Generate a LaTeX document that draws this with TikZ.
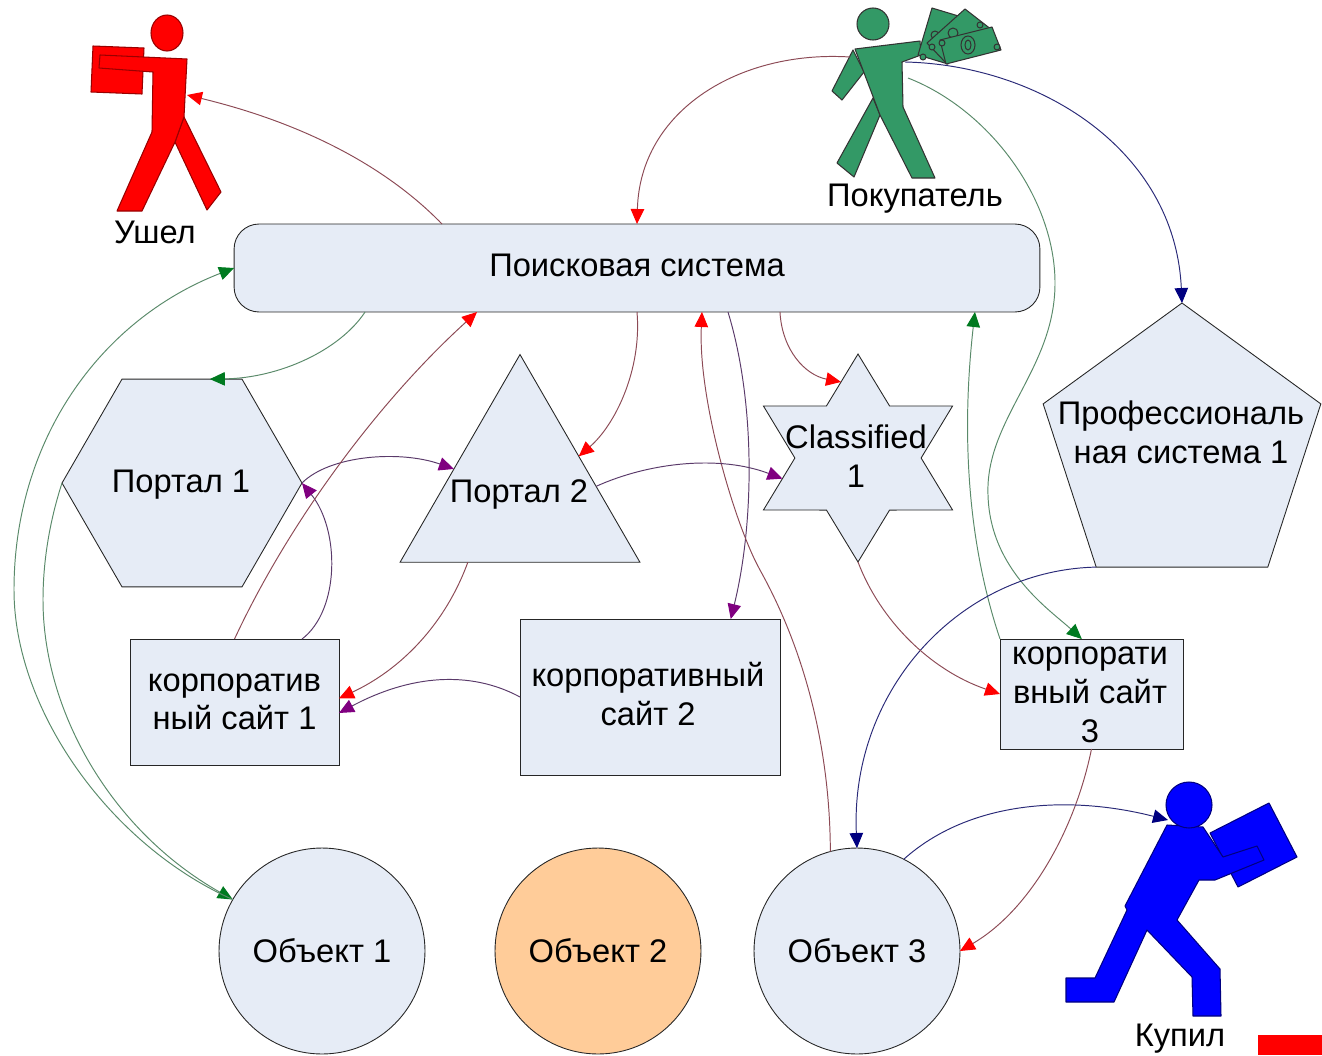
\documentclass[tikz,border=0pt]{standalone}
\usepackage{fontspec}
\setmainfont{Liberation Sans}
\usetikzlibrary{arrows.meta,shapes.geometric}

\begin{document}
\begin{tikzpicture}[x=0.02cm,y=-0.02cm]
    \definecolor{shapefill}{HTML}{E6ECF6}
    \definecolor{orangefill}{HTML}{FFCC99}
    \definecolor{buyergreen}{HTML}{339966}
    \definecolor{linered}{HTML}{8C4A55}
    \definecolor{linegreen}{HTML}{5A8A6A}
    \definecolor{linenavy}{HTML}{2A2A78}
    \definecolor{linepurple}{HTML}{5A3A6A}
    \definecolor{tippurple}{HTML}{800080}
    \definecolor{tipgreen}{HTML}{007A20}
    \definecolor{tipnavy}{HTML}{000080}
    \tikzset{
      basenode/.style={draw=black!85,line width=0.5pt,fill=shapefill,inner sep=0pt,outer sep=0pt,align=center,font=\fontsize{18.6}{22}\selectfont},
      rectnode/.style={basenode,rectangle},
      circlenode/.style={basenode,circle,minimum size=4.12cm},
      textnode/.style={inner sep=0pt,outer sep=0pt,align=center,font=\fontsize{18.6}{22}\selectfont},
      redarrow/.style={draw=linered,line width=0.55pt,-{Triangle[red,length=3mm,width=2.7mm]}},
      greenarrow/.style={draw=linegreen,line width=0.55pt,-{Triangle[tipgreen,length=3mm,width=2.7mm]}},
      navyarrow/.style={draw=linenavy,line width=0.55pt,-{Triangle[tipnavy,length=3mm,width=2.7mm]}},
      purplearrow/.style={draw=linepurple,line width=0.55pt,-{Triangle[tippurple,length=3mm,width=2.7mm]}},
      manred/.style={fill=red,draw=red!60!black,line width=0.6pt,line join=round},
      mangreen/.style={fill=buyergreen,draw=black!80,line width=0.6pt,line join=round},
      manblue/.style={fill=blue,draw=blue!50!black,line width=0.6pt,line join=round}
    }
    \useasboundingbox (0,0) rectangle (1322,1055);

    \draw[manred] (93,46) -- (91,92) -- (142,94) -- (144,48) -- cycle;
    \draw[manred] (184,117) -- (221,192) -- (207,210) -- (175,142) -- cycle;
    \draw[manred] (100,55) -- (187,59) -- (184,117) -- (175,142) -- (142,211) -- (117,211) -- (152,132) -- (153,72) -- (99,68) -- cycle;
    \draw[manred] (167,33) ellipse (16 and 18);

    \draw[mangreen] (853,50) -- (864,72) -- (842,100) -- (832,91) -- cycle;
    \draw[mangreen] (873,98) -- (880,115) -- (854,177) -- (837,163) -- cycle;
    \draw[mangreen] (855,49) -- (920,41) -- (921,55) -- (902,62) -- (903,107) -- (935,178) -- (912,178) -- (880,115) -- cycle;
    \draw[mangreen] (932,8) -- (975,21) -- (948,64) -- (918,55) -- cycle;
    \draw[mangreen] (935,35) circle (4);
    \draw[mangreen] (923,57) circle (3);
    \draw[mangreen] (965,9) -- (992,30) -- (947,64) -- (927,43) -- cycle;
    \draw[mangreen] (953,33) circle (5);
    \draw[mangreen] (932,47) circle (3);
    \draw[mangreen] (980,25) circle (3);
    \draw[mangreen] (940,40) -- (992,27) -- (1001,50) -- (946,64) -- cycle;
    \draw[mangreen] (968,45) ellipse (7 and 9);
    \draw[mangreen] (968,45) ellipse (3 and 5);
    \draw[mangreen] (942,43) circle (3);
    \draw[mangreen] (997,47) circle (3);
    \draw[mangreen] (873,24) circle (16);

    \draw[manblue] (1210,833) -- (1269,803) -- (1297,857) -- (1238,887) -- cycle;
    \draw[manblue] (1167,825) -- (1203,827) -- (1223,857) -- (1257,846) -- (1264,860) -- (1215,880) -- (1199,880) -- (1177,920) -- (1220,969) -- (1221,1016) -- (1193,1016) -- (1192,977) -- (1147,930) -- (1114,1002) -- (1066,1002) -- (1066,978) -- (1095,978) -- (1127,910) -- (1125,906) -- cycle;
    \draw[manblue] (1189,805) circle (23);

    \fill[red] (1258,1035) rectangle (1322,1055);

    \coordinate (quitbody) at (187,95);
    \coordinate (buyerback) at (850,57);
    \coordinate (buyerhand) at (905,62);
    \coordinate (buyerhip) at (908,78);
    \coordinate (boughtbody) at (1168,820);

    \node[textnode] (quit) at (155,232) {Ушел};
    \node[textnode] (buyer) at (915,199) {Покупатель};
    \node[textnode] (bought) at (1180,1039) {Купил};

    \node[rectnode,rounded corners=0.5cm,minimum width=16.12cm,minimum height=1.76cm] (search) at (637,268) {\raisebox{0.12cm}{Поисковая система}};
    \node[basenode,regular polygon,regular polygon sides=6,minimum size=4.8cm] (portala) at (182,483) {};
    \node[textnode] (portalatext) at (181,485) {Портал 1};
    \node[basenode,regular polygon,regular polygon sides=3,minimum size=5.54cm] (portalb) at (520,493) {};
    \node[textnode] (portalbtext) at (519,494) {Портал 2};
    \node[basenode,star,star points=6,star point ratio=1.73,minimum size=4.16cm,xscale=1.05,transform shape] (classified) at (858,458) {};
    \node[textnode] (classifiedtext) at (856,456) {Classified\\1};
    \node[basenode,regular polygon,regular polygon sides=5,minimum size=5.84cm] (profsys) at (1182,449) {};
    \node[textnode] (profsystext) at (1181,432) {Профессиональ\\ная система 1};
    \node[rectnode,minimum width=4.18cm,minimum height=2.52cm] (sitea) at (234.5,702) {корпоратив\\ный сайт 1};
    \node[rectnode,minimum width=5.2cm,minimum height=3.12cm] (siteb) at (650,697) {};
    \node[textnode] (sitebtext) at (648,694) {корпоративный\\сайт 2};
    \node[rectnode,minimum width=3.66cm,minimum height=2.2cm] (sitec) at (1091.5,694) {};
    \node[textnode] (sitectext) at (1090,695) {корпорати\\вный сайт\\3};
    \node[circlenode] (obja) at (322,951) {Объект 1};
    \node[circlenode,fill=orangefill] (objb) at (598,951) {Объект 2};
    \node[circlenode] (objc) at (857,951) {Объект 3};

    \draw[redarrow] ([xshift=-3.9cm]search.north) .. controls (370,150) and (270,115) .. (quitbody);
    \draw[redarrow] (buyerback) .. controls (740,50) and (640,110) .. (search.north);
    \draw[navyarrow] (buyerhand) .. controls (1040,65) and (1175,150) .. (profsys.corner 1);
    \draw[greenarrow] (buyerhip) .. controls (990,110) and (1056,200) .. (1055,285) .. controls (1054,370) and (985,420) .. (988,495) .. controls (990,570) and (1050,610) .. (sitec.100);
    \draw[greenarrow] ([xshift=-5.44cm]search.south) .. controls (340,350) and (280,378) .. (portala.75);
    \draw[redarrow] (search.south) .. controls (642,370) and (615,425) .. (portalb.32);
    \draw[redarrow] ([xshift=2.86cm]search.south) .. controls (782,350) and (805,375) .. (classified.102);
    \draw[purplearrow] ([xshift=1.82cm]search.south) .. controls (755,400) and (755,520) .. (siteb.44);
    \draw[redarrow] (objc.105) .. controls (830,760) and (810,660) .. (760,570) .. controls (735,525) and (698,400) .. ([xshift=1.3cm]search.south);
    \draw[greenarrow] (sitec.north west) .. controls (960,520) and (965,400) .. ([xshift=6.76cm]search.south);
    \draw[navyarrow] (profsys.corner 3) .. controls (960,570) and (850,690) .. (objc.north);
    \draw[redarrow] (classified.-90) .. controls (880,620) and (930,670) .. (sitec.west);
    \draw[redarrow] (sitec.south) .. controls (1075,830) and (1030,910) .. (objc.east);
    \draw[navyarrow] (objc.63) .. controls (970,800) and (1070,795) .. (boughtbody);
    \draw[purplearrow] (portala.0) .. controls (330,455) and (400,450) .. (portalb.160);
    \draw[purplearrow] (portalb.5) .. controls (650,462) and (720,455) .. (classified.196);
    \draw[purplearrow] (sitea.43) .. controls (340,610) and (340,530) .. (portala.0);
    \draw[redarrow] (sitea.north) .. controls (290,520) and (380,400) .. ([xshift=-3.2cm]search.south);
    \draw[redarrow] (portalb.-127) .. controls (445,625) and (400,670) .. (sitea.2);
    \draw[purplearrow] (siteb.west) .. controls (470,670) and (410,675) .. (sitea.-6);
    \draw[greenarrow] (portala.180) .. controls (50,520) and (43,560) .. (43,600) .. controls (43,710) and (110,830) .. (obja.150);
    \draw[greenarrow] (obja.150) .. controls (110,845) and (14,710) .. (14,590) .. controls (14,440) and (100,320) .. (search.west);
\end{tikzpicture}
\end{document}
